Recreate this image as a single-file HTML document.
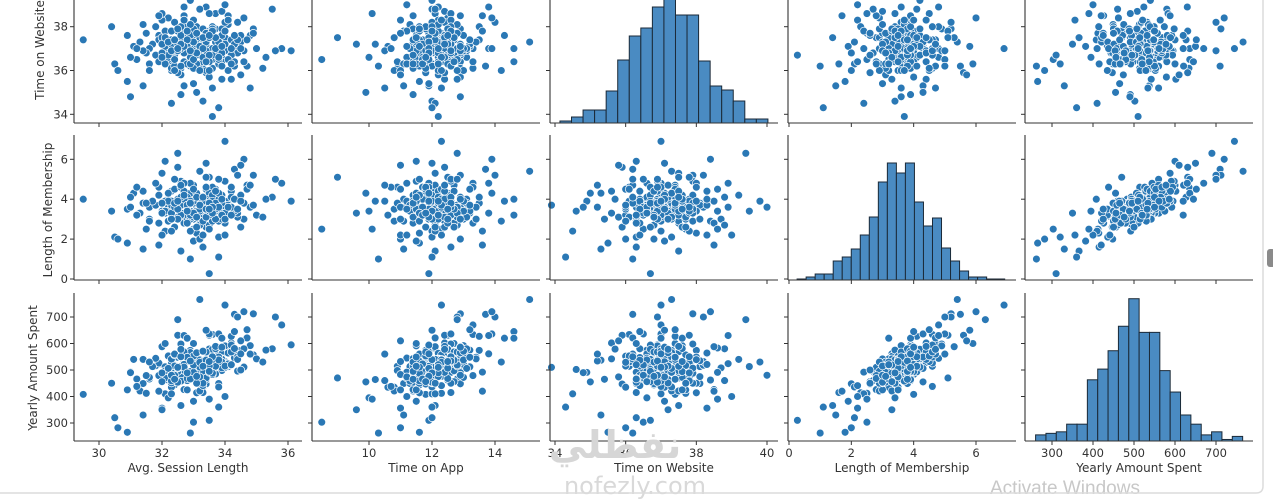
<!DOCTYPE html>
<html><head><meta charset="utf-8"><style>
html,body{margin:0;padding:0;background:#fff;}
svg{display:block;font-family:"DejaVu Sans","Liberation Sans",sans-serif;}
</style></head><body>
<svg id="chart" width="1273" height="500" viewBox="0 0 1273 500" xmlns="http://www.w3.org/2000/svg">
<rect x="0" y="0" width="1273" height="500" fill="#fff"/>
<g id="plots"></g>
<text transform="translate(44,50) rotate(-90)" text-anchor="middle" font-size="12" fill="#333">Time on Website</text>
<text transform="translate(52,210) rotate(-90)" text-anchor="middle" font-size="12" fill="#333">Length of Membership</text>
<text transform="translate(37,368) rotate(-90)" text-anchor="middle" font-size="12" fill="#333">Yearly Amount Spent</text>
<text x="188" y="472" text-anchor="middle" font-size="12" fill="#333">Avg. Session Length</text>
<text x="426" y="472" text-anchor="middle" font-size="12" fill="#333">Time on App</text>
<text x="664" y="472" text-anchor="middle" font-size="12" fill="#333">Time on Website</text>
<text x="902" y="472" text-anchor="middle" font-size="12" fill="#333">Length of Membership</text>
<text x="1139" y="472" text-anchor="middle" font-size="12" fill="#333">Yearly Amount Spent</text>
<text x="615" y="458" text-anchor="middle" font-size="38" font-weight="bold" fill="#d6d6d6" font-family="'DejaVu Sans',sans-serif">نفظلي</text>
<text x="635" y="494" text-anchor="middle" font-size="24" fill="#d9d9d9">nofezly.com</text>
<text x="990" y="494" font-size="19" fill="#c8c8c8" font-family="'Liberation Sans',sans-serif">Activate Windows</text>
<path d="M1263 0 V486 Q1263 493 1256 493 H0" fill="none" stroke="#dcdcdc" stroke-width="1.5"/>
<rect x="1267" y="249" width="8" height="18" rx="3" fill="#8a8a8a"/>
</svg>
<script>
const session=[29.5,36.1,33.0,33.2,33.6,32.8,33.5,34.0,30.5,30.6,30.9,32.9,35.8,35.5,35.3,34.3,34.9,34.4,31.1,32.6,33.1,32.4,33.8,32.7,34.1,31.9,33.4,32.2,33.9,32.5,34.6,33.0,31.6,33.3,32.9,34.2,32.1,33.6,32.8,33.5,31.3,34.8,32.3,33.7,33.2,32.6,34.4,31.8,33.1,32.0,33.9,32.7,34.0,33.4,31.5,32.9,33.6,34.5,32.4,33.0,33.3,32.2,34.1,31.9,33.8,32.6,33.5,32.8,34.3,31.2,33.1,32.5,34.7,33.2,32.0,33.7,32.3,33.9,31.7,34.2,32.9,33.4,32.4,33.0,34.0,31.4,33.6,32.1,33.3,34.9,32.7,33.5,31.0,33.8,32.5,34.4,32.8,33.2,31.6,34.6,33.0,32.3,33.7,32.9,33.4,32.2,34.1,31.8,33.1,32.6,33.9,32.4,34.3,33.2,32.0,33.6,32.8,33.5,31.5,34.0,32.9,33.3,32.5,33.8,32.1,34.5,33.0,32.7,33.4,31.9,35.0,33.1,32.6,34.2,32.3,33.5,30.9,33.2,32.4,34.7,33.9,32.8,33.6,31.4,33.0,34.1,32.2,33.3,32.6,33.7,31.2,35.2,30.4,33.9,32.0,34.3,33.1,31.6,32.3,34.0,33.2,31.0,34.8,32.7,33.5,35.6,31.4,32.8,33.4,34.6,32.1,33.8,31.9,34.5,32.5,
33.2,32.9,33.4,32.6,33.7,33.0,32.5,34.0,33.1,32.8,33.6,32.3,33.3,33.9,32.7,33.5,32.4,34.2,32.9,33.2,33.8,32.2,33.4,32.6,33.0,34.4,32.8,33.6,32.1,33.3,33.1,32.5,34.1,32.9,33.7,32.3,33.5,33.0,32.7,33.9,32.4,33.2,34.3,32.0,33.4,32.8,33.6,32.6,33.1,33.8,32.2,33.3,32.9,34.0,32.5,33.5,33.0,32.7,33.7,32.3,33.2,34.5,32.8,33.4,32.4,33.9,33.1,32.6,33.6,32.0,33.3,32.9,34.2,32.5,33.5];
const app=[11.8,12.5,8.5,15.1,12.2,11.5,11.9,12.3,12.0,11.0,11.6,10.3,13.3,12.0,11.9,13.7,12.9,14.0,12.4,10.9,12.1,11.6,12.6,12.9,11.3,12.2,11.8,12.5,13.1,11.1,12.0,12.7,11.9,10.6,13.5,12.4,12.0,11.4,12.3,12.8,11.4,13.0,10.8,12.1,11.7,12.6,11.6,12.9,13.8,11.0,10.9,11.9,12.7,12.2,12.3,11.2,13.3,11.8,12.4,11.5,12.0,13.1,12.9,11.7,11.1,12.2,12.5,10.5,12.3,12.8,11.6,13.4,12.1,12.9,12.1,11.3,11.8,12.4,12.6,13.5,12.0,11.0,12.7,13.0,11.5,11.3,12.3,13.2,12.6,11.9,11.4,13.9,12.2,12.0,12.4,12.7,11.8,10.8,13.0,12.5,12.2,12.9,11.6,13.6,12.0,11.5,12.2,11.9,12.8,12.1,11.4,12.3,13.2,11.2,12.6,12.4,11.0,12.9,12.0,12.0,12.5,11.7,13.1,12.6,11.2,12.4,11.9,12.8,10.2,13.3,12.2,12.4,11.4,11.9,12.0,13.0,11.5,12.1,11.6,13.2,12.8,12.2,11.0,12.7,12.5,12.6,10.0,12.3,11.8,13.4,10.7,11.4,12.6,14.3,9.6,14.6,9.9,14.2,12.1,11.2,12.4,12.9,10.5,13.8,10.1,12.8,11.1,14.6,9.0,13.9,11.5,12.0,13.6,11.0,12.8,
12.0,11.8,12.3,12.1,11.9,12.6,11.7,12.2,11.4,12.9,12.5,12.4,11.6,12.0,12.7,11.9,11.9,12.8,12.2,13.0,11.5,12.3,12.8,11.3,11.8,12.1,12.5,12.0,12.7,12.4,12.9,12.0,11.7,11.5,13.1,11.6,12.2,12.4,12.3,12.6,12.8,11.2,12.4,12.2,11.8,13.2,11.6,12.6,12.1,12.3,11.9,13.0,11.7,12.5,12.5,11.4,12.8,11.6,12.4,12.9,12.3,11.9,12.0,12.7,11.4,12.9,11.9,12.4,12.6,11.8,11.5,12.6,12.2,12.2,12.5];
const website=[37.4,36.9,36.5,37.3,33.9,40.0,36.7,37.0,36.3,36.0,35.5,36.2,37.0,38.8,36.6,36.2,37.9,38.2,37.1,36.1,37.2,36.8,37.5,36.4,38.1,37.6,35.9,38.4,36.6,37.8,36.9,37.4,36.3,37.1,38.0,35.6,37.0,36.5,37.7,36.8,37.3,37.6,36.0,38.6,36.2,37.9,37.2,36.7,37.0,38.3,36.4,35.3,37.5,38.9,37.7,36.6,36.1,37.3,38.2,37.1,34.6,36.9,38.5,37.4,36.3,35.8,37.8,36.9,37.0,36.5,38.0,37.3,36.2,36.8,37.5,37.9,36.4,38.7,37.2,37.4,39.2,36.0,36.7,37.6,36.9,38.1,35.2,37.1,36.3,37.7,38.5,37.0,36.6,37.3,35.9,36.8,37.9,37.5,37.0,36.4,38.3,36.1,37.4,37.8,37.1,36.5,36.0,38.0,36.7,37.5,37.9,36.9,37.2,36.3,38.6,37.0,37.7,35.7,36.8,38.2,37.3,36.6,37.0,36.5,37.8,37.6,35.4,38.1,37.2,36.4,37.0,39.5,34.9,36.7,37.2,36.0,37.6,38.8,36.2,37.4,35.6,37.1,37.7,36.9,37.9,38.3,36.6,36.4,38.0,37.3,37.0,36.1,38.0,37.6,37.2,36.4,35.0,36.0,34.5,39.0,39.8,34.8,35.2,38.9,38.6,36.9,35.3,37.0,37.5,38.4,36.3,34.3,38.5,35.8,39.4,
37.0,36.6,37.3,37.6,36.9,36.4,37.2,37.8,36.3,37.1,36.7,37.4,37.9,36.2,36.8,37.5,36.5,37.0,38.1,36.9,37.3,36.7,37.7,37.0,36.1,37.4,36.3,38.0,37.5,36.6,37.2,36.9,36.5,37.6,37.0,37.8,36.4,37.3,38.3,36.8,36.0,37.1,37.6,36.8,36.9,37.4,37.9,36.2,37.7,36.6,37.3,37.0,36.3,37.2,37.9,36.7,36.5,37.1,37.5,36.9,36.0,37.0,37.8,36.4,37.4,37.1,36.8,37.2,37.8,36.6,37.5,36.9,36.3,37.0,37.6];
const membership=[4.0,3.9,2.5,5.4,3.7,3.6,0.27,6.9,2.1,2.0,1.8,1.0,4.8,4.1,4.0,5.5,5.2,5.2,4.3,4.6,3.5,3.1,3.9,3.3,3.7,4.2,2.6,2.9,3.4,4.0,3.0,4.7,3.6,3.2,3.8,4.4,2.4,3.9,3.0,2.7,3.3,3.6,3.5,4.5,4.1,4.9,3.1,3.7,3.3,2.2,3.8,4.3,2.8,3.6,2.5,4.8,4.6,4.2,3.8,1.9,3.4,4.0,3.9,4.6,2.9,3.1,5.1,3.9,3.5,3.2,2.3,3.6,4.7,2.0,5.3,3.4,4.4,3.0,3.9,4.1,4.2,4.5,2.6,3.2,4.9,3.8,3.6,3.3,1.6,3.7,2.8,4.3,4.1,2.1,5.6,3.3,3.5,2.9,3.0,3.8,4.4,3.9,4.0,2.4,5.8,3.7,3.2,4.8,3.6,1.4,4.2,4.5,3.4,3.8,3.4,2.9,3.0,4.0,3.8,3.6,4.3,3.5,3.1,5.0,3.9,2.6,3.0,3.7,3.9,2.8,3.2,3.4,3.9,4.6,3.0,3.5,3.5,2.7,5.0,4.5,3.3,4.1,3.6,4.4,3.8,3.7,3.4,2.2,4.6,3.0,4.6,3.1,3.4,3.9,3.3,4.0,4.3,2.9,2.4,2.2,3.9,3.6,4.7,4.8,2.5,5.0,1.5,3.2,5.1,6.0,5.9,1.1,1.7,5.7,6.3,
3.6,3.4,3.8,3.2,3.5,3.9,4.0,3.3,3.1,3.6,4.2,3.7,2.9,3.8,4.4,3.2,3.5,3.6,3.0,3.4,4.3,3.9,3.1,3.7,4.5,3.5,2.8,3.9,3.4,3.7,4.1,3.0,3.6,3.9,3.8,3.3,3.4,3.1,4.0,3.2,3.6,3.5,4.0,3.8,4.6,3.7,3.3,4.1,2.6,3.6,4.3,3.9,3.2,3.0,3.5,3.8,3.3,4.2,4.4,3.0,3.7,3.9,3.4,3.5,3.8,4.0,3.1,4.7,3.6,3.3,4.1,3.8,3.2,3.9,3.5];
const yearly=[408,595,303,766,510,480,310,745,320,282,265,262,670,580,575,710,712,700,540,514,507,444,569,515,513,522,447,462,561,483,511,600,466,435,574,602,410,517,476,495,421,592,435,583,530,598,496,516,561,356,498,537,510,524,412,545,634,574,518,382,502,553,588,526,449,474,631,460,546,466,414,548,621,448,588,485,529,508,513,627,540,532,456,521,591,449,534,512,415,557,426,636,493,436,631,551,487,421,472,580,563,541,533,492,650,471,519,544,540,366,543,557,575,492,491,495,425,579,479,532,566,496,506,636,470,500,465,535,464,479,542,513,491,594,451,552,425,460,560,652,542,540,483,540,538,564,395,441,549,542,438,530,450,620,350,645,455,530,410,400,530,490,560,630,390,700,330,620,470,720,600,360,420,610,690,
511,480,540,472,514,547,494,527,454,531,578,503,450,541,568,491,480,568,475,538,549,502,517,458,553,540,468,539,497,533,565,454,523,494,580,459,515,491,521,530,515,474,581,489,568,548,488,550,450,538,506,571,466,515,507,495,519,511,589,480,529,561,489,537,465,586,476,578,550,456,514,534,520,510,532];

const websiteHistCounts=[2,6,13,13,32,63,87,95,116,135,108,108,62,37,33,22,4,4];
const membershipHistCounts=[1,3,6,6,19,23,31,45,63,98,117,107,117,78,54,62,32,19,9,3,3,1,1];
const yearlyHistCounts=[4,5,6,11,11,40,47,59,75,93,71,71,46,32,17,11,4,6,1,3];

const sessionTicks=[30,32,34,36];
const appTicks=[10,12,14];
const websiteTicks=[34,36,38,40];
const membershipTicks=[0,2,4,6];
const yearlyTicks=[300,400,500,600,700];

const NS='http://www.w3.org/2000/svg';
const root=document.getElementById('plots');
function mk(tag,attrs,parent){const e=document.createElementNS(NS,tag);for(const k in attrs)e.setAttribute(k,attrs[k]);(parent||root).appendChild(e);return e;}
function lin(v0,p0,v1,p1){return v=>p0+(v-v0)*(p1-p0)/(v1-v0);}

const colLeft=[74,312,550,788,1025], colW=228;
const rowTop=[-23,135,293], rowBot=[123,280,441];
const vars={
 session:{data:session,ticks:sessionTicks,x:lin(30,99,36,288)},
 app:{data:app,ticks:appTicks,x:lin(10,369,14,495)},
 website:{data:website,ticks:websiteTicks,x:lin(34,555,40,767),y:lin(38,26.7,34,114.3)},
 membership:{data:membership,ticks:membershipTicks,x:lin(0,789,6,976),y:lin(0,279,6,159.3)},
 yearly:{data:yearly,ticks:yearlyTicks,x:lin(300,1052,700,1216),y:lin(700,317,300,423)}
};
const colVars=['session','app','website','membership','yearly'];
const rowVars=['website','membership','yearly'];
const hists={
 website:{counts:websiteHistCounts,lo:34.14,w:0.327,k:1.0},
 membership:{counts:membershipHistCounts,lo:0.26,w:0.2896,k:1.0},
 yearly:{counts:yearlyHistCounts,lo:260,w:25.25,k:1.53}
};

rowVars.forEach((rv,ri)=>{
 colVars.forEach((cv,ci)=>{
  const g=mk('g',{});
  
  
  const L=colLeft[ci],T=rowTop[ri],B=rowBot[ri],X=vars[cv].x,Y=vars[rv].y;
  if(rv===cv){
   const h=hists[rv];
   h.counts.forEach((c,i)=>{
    const x0=X(h.lo+i*h.w),x1=X(h.lo+(i+1)*h.w),hh=c*h.k;
    const r=mk('rect',{x:x0,y:B-hh,width:x1-x0,height:hh,fill:'#4a8bc2',stroke:'#1b2a38','stroke-width':1},g);
    
    
   });
  } else {
   const xs=vars[cv].data,ys=vars[rv].data;
   for(let i=0;i<xs.length;i++){
    const c=mk('circle',{cx:X(xs[i]),cy:Y(ys[i]),r:3.9,fill:'#2a78b5',stroke:'#fff','stroke-width':0.7},g);
    
    
   }
  }
  mk('line',{x1:L,y1:Math.max(T,0),x2:L,y2:B,stroke:'#333','stroke-width':1.1},g);
  mk('line',{x1:L,y1:B,x2:L+colW,y2:B,stroke:'#333','stroke-width':1.1},g);
  vars[rv].ticks.forEach(t=>{
   const y=Y(t); if(y<T||y>B) return;
   mk('line',{x1:L-4,y1:y,x2:L,y2:y,stroke:'#333','stroke-width':1},g);
   if(ci===0){
    const tx=mk('text',{x:L-6,y:y+4,'text-anchor':'end','font-size':11.5,fill:'#333'},g);
    tx.textContent=t;
    
    
   }
  });
  vars[cv].ticks.forEach(t=>{
   const x=X(t); if(x<L-2||x>L+colW) return;
   mk('line',{x1:x,y1:B,x2:x,y2:B+4,stroke:'#333','stroke-width':1},g);
   if(ri===2){
    const tx=mk('text',{x:x,y:B+16,'text-anchor':'middle','font-size':11.5,fill:'#333'},g);
    tx.textContent=t;
    
    
   }
  });
 });
});
</script>
</body></html>
